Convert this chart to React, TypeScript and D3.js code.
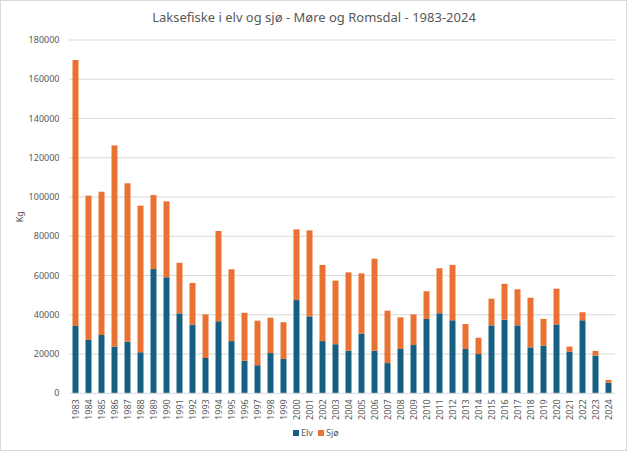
import * as React from "react";
import * as d3 from "d3";

const years = [
  "1983", "1984", "1985", "1986", "1987", "1988", "1989", "1990", "1991", "1992",
  "1993", "1994", "1995", "1996", "1997", "1998", "1999", "2000", "2001", "2002",
  "2003", "2004", "2005", "2006", "2007", "2008", "2009", "2010", "2011", "2012",
  "2013", "2014", "2015", "2016", "2017", "2018", "2019", "2020", "2021", "2022",
  "2023", "2024",
];

// catch in rivers (kg)
const elv = [
  34300, 27200, 29700, 23800, 26300, 20900, 63300, 59100, 40700, 35000,
  18000, 36700, 26600, 16600, 14300, 20500, 17500, 47500, 39200, 26600,
  25000, 21700, 30400, 21700, 15400, 22600, 24600, 37900, 40800, 37200,
  22600, 20000, 34600, 37500, 34600, 23400, 24300, 35100, 21200, 37200,
  19200, 5400,
];

// catch at sea (kg)
const sjo = [
  135500, 73500, 73000, 102500, 80700, 74700, 37700, 38700, 25800, 21200,
  22200, 46000, 36600, 24400, 22700, 18000, 18700, 36000, 43800, 38800,
  32400, 39900, 30700, 46900, 26700, 16100, 15600, 14100, 22900, 28200,
  12700, 8300, 13600, 18300, 18400, 25300, 13600, 18200, 2600, 4100,
  2400, 1400,
];

const yTicks = [0, 20000, 40000, 60000, 80000, 100000, 120000, 140000, 160000, 180000];

const seriesNames = ["Elv", "Sjø"];
const colors = ["#156082", "#E97132"];

const W = 628;
const H = 452;
const margin = { left: 69, right: 13, top: 40, bottom: 58.7 };
const font = "'Noto Sans', 'Open Sans', sans-serif";

export default function App() {
  React.useEffect(() => {
    document.body.style.margin = "0";
  }, []);

  const x = d3
    .scaleBand<string>()
    .domain(years)
    .range([margin.left, W - margin.right])
    .paddingInner(0.54)
    .paddingOuter(0.27);

  const y = d3
    .scaleLinear()
    .domain([0, 180000])
    .range([H - margin.bottom, margin.top]);

  const rows = years.map((yr, i) => ({ year: yr, Elv: elv[i], Sjø: sjo[i] }));
  const stacked = d3.stack<any>().keys(seriesNames)(rows);

  return (
    <svg width={W} height={H} style={{ display: "block", background: "#fff" }}>
      <rect x={0.5} y={0.5} width={W - 2} height={H - 2} fill="#fff" stroke="#d9d9d9" />
      <text
        x={W / 2}
        y={22}
        textAnchor="middle"
        fontFamily={font}
        fontSize={13}
        fill="#595959"
      >
        Laksefiske i elv og sjø - Møre og Romsdal - 1983-2024
      </text>

      {yTicks.map((t) => (
        <g key={t}>
          {t > 0 && (
            <line
              x1={margin.left}
              x2={W - margin.right}
              y1={y(t)}
              y2={y(t)}
              stroke="#d9d9d9"
              strokeWidth={1}
            />
          )}
          <text
            x={59.5}
            y={y(t)}
            dy="0.35em"
            textAnchor="end"
            fontFamily={font}
            fontSize={9}
            fill="#595959"
          >
            {t}
          </text>
        </g>
      ))}

      <text
        transform={`translate(23,${y(90000)}) rotate(-90)`}
        textAnchor="middle"
        fontFamily={font}
        fontSize={9}
        fill="#595959"
      >
        Kg
      </text>

      {stacked.map((s, si) => (
        <g key={s.key} fill={colors[si]}>
          {s.map((d, i) => (
            <rect
              key={years[i]}
              x={x(years[i])}
              y={y(d[1])}
              width={x.bandwidth()}
              height={y(d[0]) - y(d[1])}
            />
          ))}
        </g>
      ))}

      <line
        x1={margin.left}
        x2={W - margin.right}
        y1={y(0)}
        y2={y(0)}
        stroke="#d9d9d9"
        strokeWidth={1}
      />

      {years.map((yr) => (
        <text
          key={yr}
          transform={`translate(${(x(yr) as number) + x.bandwidth() / 2},${y(0) + 6}) rotate(-90)`}
          textAnchor="end"
          dy="0.35em"
          fontFamily={font}
          fontSize={9}
          fill="#595959"
        >
          {yr}
        </text>
      ))}

      {seriesNames.map((n, i) => (
        <g key={n} transform={`translate(${293 + i * 25},433)`}>
          <rect x={0} y={-3} width={6} height={6} fill={colors[i]} />
          <text x={8} y={0} dy="0.35em" fontFamily={font} fontSize={9} fill="#595959">
            {n}
          </text>
        </g>
      ))}
    </svg>
  );
}
